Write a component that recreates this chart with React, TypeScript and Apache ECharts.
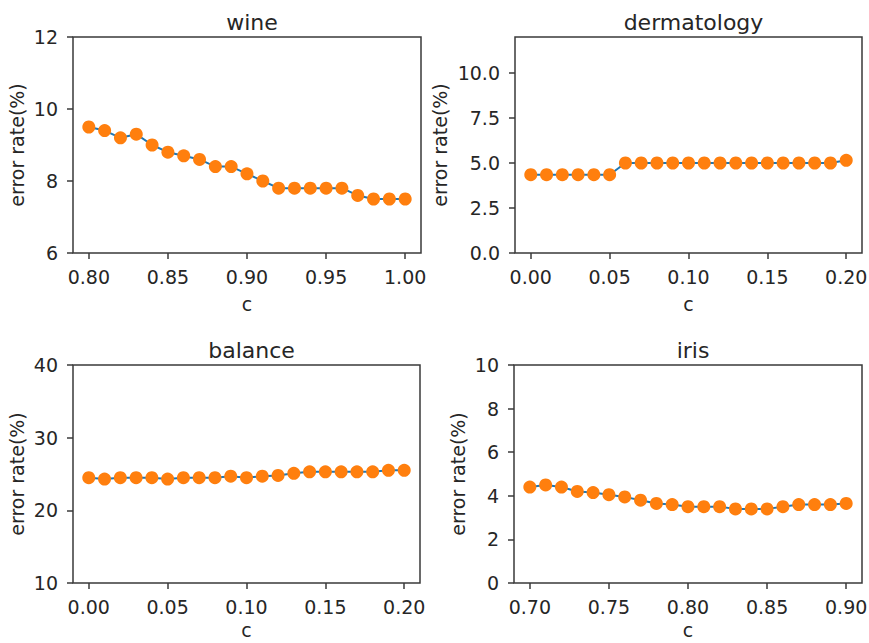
import React, { useEffect, useRef } from "react";
import * as echarts from "echarts";

const wineC = [0.8, 0.81, 0.82, 0.83, 0.84, 0.85, 0.86, 0.87, 0.88, 0.89, 0.9, 0.91, 0.92, 0.93, 0.94, 0.95, 0.96, 0.97, 0.98, 0.99, 1.0];
const wineErr = [9.5, 9.4, 9.2, 9.3, 9.0, 8.8, 8.7, 8.6, 8.4, 8.4, 8.2, 8.0, 7.8, 7.8, 7.8, 7.8, 7.8, 7.6, 7.5, 7.5, 7.5];

const dermC = [0.0, 0.01, 0.02, 0.03, 0.04, 0.05, 0.06, 0.07, 0.08, 0.09, 0.1, 0.11, 0.12, 0.13, 0.14, 0.15, 0.16, 0.17, 0.18, 0.19, 0.2];
const dermErr = [4.35, 4.35, 4.35, 4.35, 4.35, 4.35, 5.0, 5.0, 5.0, 5.0, 5.0, 5.0, 5.0, 5.0, 5.0, 5.0, 5.0, 5.0, 5.0, 5.0, 5.15];

const balanceC = [0.0, 0.01, 0.02, 0.03, 0.04, 0.05, 0.06, 0.07, 0.08, 0.09, 0.1, 0.11, 0.12, 0.13, 0.14, 0.15, 0.16, 0.17, 0.18, 0.19, 0.2];
const balanceErr = [24.5, 24.3, 24.5, 24.5, 24.5, 24.3, 24.5, 24.5, 24.5, 24.7, 24.5, 24.7, 24.8, 25.1, 25.3, 25.3, 25.3, 25.3, 25.3, 25.5, 25.5];

const irisC = [0.7, 0.71, 0.72, 0.73, 0.74, 0.75, 0.76, 0.77, 0.78, 0.79, 0.8, 0.81, 0.82, 0.83, 0.84, 0.85, 0.86, 0.87, 0.88, 0.89, 0.9];
const irisErr = [4.4, 4.5, 4.4, 4.2, 4.15, 4.05, 3.95, 3.8, 3.65, 3.6, 3.5, 3.5, 3.5, 3.4, 3.4, 3.4, 3.5, 3.6, 3.6, 3.6, 3.65];

const wineXTicks = [0.8, 0.85, 0.9, 0.95, 1.0];
const wineYTicks = [6, 8, 10, 12];
const dermXTicks = [0.0, 0.05, 0.1, 0.15, 0.2];
const dermYTicks = [0.0, 2.5, 5.0, 7.5, 10.0];
const balanceXTicks = [0.0, 0.05, 0.1, 0.15, 0.2];
const balanceYTicks = [10, 20, 30, 40];
const irisXTicks = [0.7, 0.75, 0.8, 0.85, 0.9];
const irisYTicks = [0, 2, 4, 6, 8, 10];

const titles = ["wine", "dermatology", "balance", "iris"];

const FONT = "DejaVu Sans";
const TEXT = "#262626";
const SPINE = "#3a3a3a";

export default function App() {
  const ref = useRef<HTMLDivElement>(null);

  useEffect(() => {
    if (!ref.current) return;
    const chart = echarts.init(ref.current, null, { renderer: "svg" });

    const panels = [
      { c: wineC, e: wineErr, xt: wineXTicks, yt: wineYTicks, xmin: 0.79, xmax: 1.01, ymin: 6, ymax: 12, xd: 2, yd: 0, left: 73, top: 37, width: 348, height: 216, yGap: 47, xGap: 41 },
      { c: dermC, e: dermErr, xt: dermXTicks, yt: dermYTicks, xmin: -0.01, xmax: 0.21, ymin: 0, ymax: 12, xd: 2, yd: 1, left: 515, top: 37, width: 347, height: 216, yGap: 66, xGap: 41 },
      { c: balanceC, e: balanceErr, xt: balanceXTicks, yt: balanceYTicks, xmin: -0.01, xmax: 0.21, ymin: 10, ymax: 40, xd: 2, yd: 0, left: 73, top: 365, width: 347, height: 218, yGap: 47, xGap: 37 },
      { c: irisC, e: irisErr, xt: irisXTicks, yt: irisYTicks, xmin: 0.69, xmax: 0.91, ymin: 0, ymax: 10, xd: 2, yd: 0, left: 514, top: 365, width: 348, height: 218, yGap: 47, xGap: 37 },
    ];

    const option: any = {
      animation: false,
      backgroundColor: "#ffffff",
      title: panels.map((p, i) => ({
        text: titles[i],
        left: p.left + p.width / 2,
        top: p.top - 31,
        textAlign: "center",
        textStyle: { fontFamily: FONT, fontSize: 22, fontWeight: "normal", color: TEXT },
      })),
      grid: panels.map((p) => ({
        left: p.left,
        top: p.top,
        width: p.width,
        height: p.height,
        show: true,
        borderColor: SPINE,
        borderWidth: 1.5,
        backgroundColor: "transparent",
        outerBoundsMode: "none",
      })),
      xAxis: panels.map((p, i) => ({
        type: "value",
        gridIndex: i,
        min: p.xmin,
        max: p.xmax,
        name: "c",
        nameLocation: "middle",
        nameGap: p.xGap,
        nameTextStyle: { fontFamily: FONT, fontSize: 19, color: TEXT },
        splitLine: { show: false },
        axisLine: { show: false, onZero: false },
        axisTick: { show: true, inside: false, length: 6, customValues: p.xt, lineStyle: { color: SPINE, width: 1.5 } },
        axisLabel: {
          show: true,
          customValues: p.xt,
          margin: 14,
          fontFamily: FONT,
          fontSize: 19,
          color: TEXT,
          formatter: (v: number) => v.toFixed(p.xd),
        },
      })),
      yAxis: panels.map((p, i) => ({
        type: "value",
        gridIndex: i,
        min: p.ymin,
        max: p.ymax,
        name: "error rate(%)",
        nameLocation: "middle",
        nameGap: p.yGap,
        nameTextStyle: { fontFamily: FONT, fontSize: 19, color: TEXT },
        splitLine: { show: false },
        axisLine: { show: false, onZero: false },
        axisTick: { show: true, inside: false, length: 6, customValues: p.yt, lineStyle: { color: SPINE, width: 1.5 } },
        axisLabel: {
          show: true,
          customValues: p.yt,
          margin: 15,
          fontFamily: FONT,
          fontSize: 19,
          color: TEXT,
          formatter: (v: number) => v.toFixed(p.yd),
        },
      })),
      series: panels.map((p, i) => ({
        type: "line",
        xAxisIndex: i,
        yAxisIndex: i,
        data: p.c.map((x, k) => [x, p.e[k]]),
        symbol: "circle",
        symbolSize: 13,
        showAllSymbol: true,
        lineStyle: { color: "#1f77b4", width: 2 },
        itemStyle: { color: "#ff7f0e", borderWidth: 0 },
        z: 3,
      })),
    };

    chart.setOption(option);
    return () => chart.dispose();
  }, []);

  return (
    <div
      ref={ref}
      style={{ position: "fixed", left: 0, top: 0, width: 869, height: 643, background: "#fff" }}
    />
  );
}
